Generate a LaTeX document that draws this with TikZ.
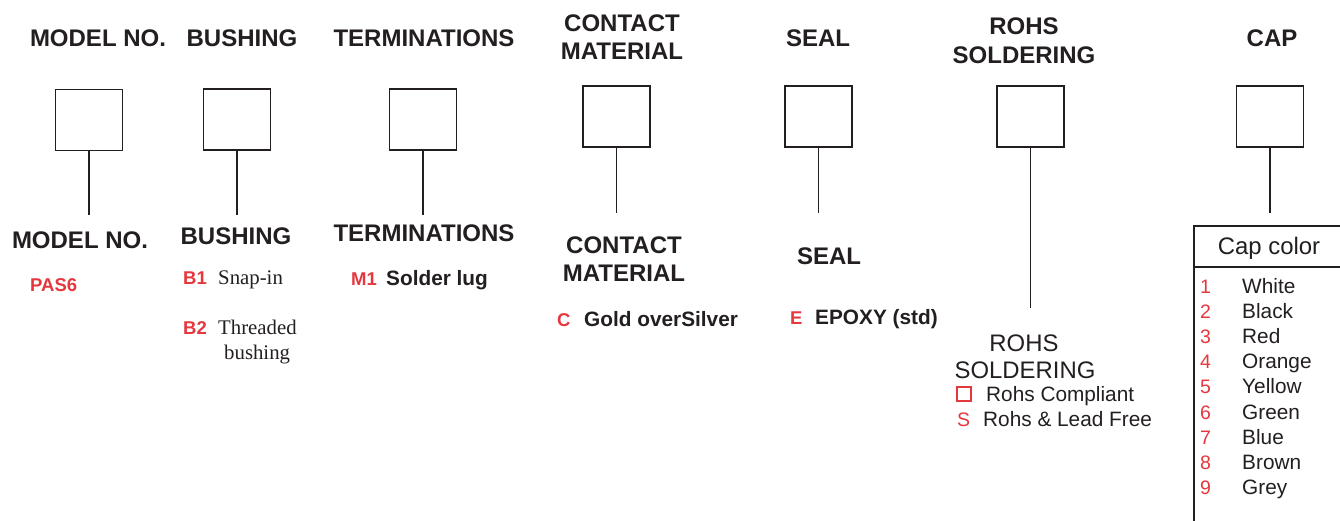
\documentclass[tikz,border=0pt]{standalone}
\usepackage{fontspec}
\setmainfont{Liberation Sans}
\newfontfamily\serifX{Liberation Serif}
\definecolor{ink}{HTML}{231F20}
\definecolor{redx}{HTML}{E5383E}
\begin{document}
\begin{tikzpicture}[x=1pt,y=-1pt,
  hdr/.style={inner sep=0pt,anchor=base,text=ink,font=\fontsize{24}{28}\bfseries\selectfont},
  sel/.style={draw=ink,line width=1.8pt,minimum width=67pt,minimum height=61pt,inner sep=0pt},
  conn/.style={draw=ink,line width=1.6pt},
  code/.style={inner sep=0pt,anchor=base west,text=redx,font=\fontsize{18.5}{22}\bfseries\selectfont},
  desc/.style={inner sep=0pt,anchor=base west,text=ink,font=\fontsize{20.8}{24}\bfseries\selectfont},
  sdesc/.style={inner sep=0pt,anchor=base west,text=ink,font=\fontsize{20.8}{24}\serifX\selectfont},
  reg/.style={inner sep=0pt,anchor=base west,text=ink,font=\fontsize{20.8}{24}\selectfont},
  rcode/.style={inner sep=0pt,anchor=base west,text=redx,font=\fontsize{19.5}{23}\selectfont},
  rhdr/.style={inner sep=0pt,anchor=base,text=ink,font=\fontsize{23.9}{28}\selectfont}]
\useasboundingbox (0,0) rectangle (1340,520);
\fill[white] (0,0) rectangle (1340,520);
% top headers
\node[hdr] (h1) at (98,46) {MODEL NO.};
\node[hdr] (h2) at (242,46) {BUSHING};
\node[hdr] (h3) at (424,46) {TERMINATIONS};
\node[hdr] (h4a) at (622,31) {CONTACT};
\node[hdr] (h4b) at (622,59) {MATERIAL};
\node[hdr] (h5) at (818,46) {SEAL};
\node[hdr] (h6a) at (1024,34) {ROHS};
\node[hdr] (h6b) at (1024,63) {SOLDERING};
\node[hdr] (h7) at (1272,46) {CAP};
% boxes
\node[sel] (b1) at (89,120) {};
\node[sel] (b2) at (237,119.5) {};
\node[sel] (b3) at (423,119.5) {};
\node[sel] (b4) at (616.5,116.5) {};
\node[sel] (b5) at (818.5,116.5) {};
\node[sel] (b6) at (1030.5,116.5) {};
\node[sel] (b7) at (1270,116.5) {};
\coordinate (e1) at (b1.south |- 0,215);
\coordinate (e2) at (b2.south |- 0,215);
\coordinate (e3) at (b3.south |- 0,215);
\coordinate (e4) at (b4.south |- 0,213);
\coordinate (e5) at (b5.south |- 0,213);
\coordinate (e6) at (b6.south |- 0,308);
\coordinate (e7) at (b7.south |- 0,213);
\draw[conn] (b1.south) -- (e1);
\draw[conn] (b2.south) -- (e2);
\draw[conn] (b3.south) -- (e3);
\draw[conn] (b4.south) -- (e4);
\draw[conn] (b5.south) -- (e5);
\draw[conn] (b6.south) -- (e6);
\draw[conn] (b7.south) -- (e7);
% lower labels
\node[hdr] (l1) at (80,248) {MODEL NO.};
\node[hdr] (l2) at (236,244) {BUSHING};
\node[hdr] (l3) at (424,241) {TERMINATIONS};
\node[hdr] (l4a) at (624,253) {CONTACT};
\node[hdr] (l4b) at (624,281) {MATERIAL};
\node[hdr] (l5) at (829,264) {SEAL};
\node[rhdr] (l6a) at (1024,351) {ROHS};
\node[rhdr] (l6b) at (1025,378) {SOLDERING};
% options
\node[code] (pas) at (30,291) {PAS6};
\node[code] (cb1) at (183,284) {B1};
\node[sdesc] (db1) at (218,284) {Snap-in};
\node[code] (cb2) at (183,334) {B2};
\node[sdesc] (db2) at (218,334) {Threaded};
\node[sdesc] (db2b) at (224,359) {bushing};
\node[code] (cm1) at (351,285) {M1};
\node[desc] (dm1) at (386,285) {Solder lug};
\node[code] (cc) at (557,326) {C};
\node[desc] (dc) at (584,326) {Gold overSilver};
\node[code] (ce) at (790,324) {E};
\node[desc] (de) at (815,324) {EPOXY (std)};
\node[draw=redx,line width=1.3pt,minimum width=14pt,minimum height=14pt,inner sep=0pt] (sq) at (964,394) {};
\node[reg] (dsq) at (986,401) {Rohs Compliant};
\node[rcode] (cs) at (957,426) {S};
\node[reg] (ds) at (983,426) {Rohs \& Lead Free};
% cap color table
\draw[ink,line width=1.3pt] (1341,226) -- (1194,226) -- (1194,521);
\draw[ink,line width=1.3pt] (1194,267) -- (1341,267);
\node[rhdr] (capc) at (1269,254) {Cap color};
\foreach \n/\c [count=\i from 0] in {1/White,2/Black,3/Red,4/Orange,5/Yellow,6/Green,7/Blue,8/Brown,9/Grey}{
  \node[rcode] (cn\n) at (1200,293+25.2*\i) {\n};
  \node[reg] (cd\n) at (1242,293+25.2*\i) {\c};
}
\end{tikzpicture}
\end{document}
